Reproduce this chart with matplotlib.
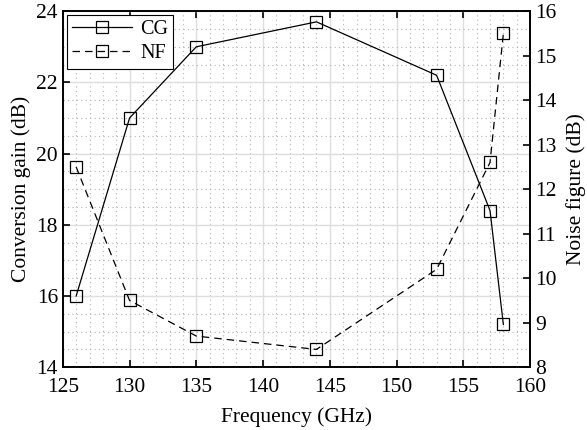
import matplotlib
matplotlib.use("Agg")
import matplotlib.pyplot as plt
from matplotlib.ticker import MultipleLocator

plt.rcParams['font.family'] = ['Liberation Serif', 'DejaVu Serif']
plt.rcParams['font.size'] = 15.5

freq = [126, 130, 135, 144, 153, 157, 158]
cg = [16.0, 21.0, 23.0, 23.7, 22.2, 18.4, 15.2]
nf = [12.5, 9.5, 8.7, 8.4, 10.2, 12.6, 15.5]

fig = plt.figure(figsize=(5.87, 4.30), dpi=100)
ax = fig.add_axes([0.107, 0.146, 0.796, 0.828])
ax2 = ax.twinx()

# grid: major solid, minor dotted
ax.set_axisbelow(True)
ax.xaxis.set_major_locator(MultipleLocator(5))
ax.xaxis.set_minor_locator(MultipleLocator(1))
ax.yaxis.set_major_locator(MultipleLocator(2))
ax.yaxis.set_minor_locator(MultipleLocator(0.5))
ax.grid(which='major', color='#dedede', linewidth=1.0, linestyle='-')
ax.grid(which='minor', color='#b4b4b4', linewidth=0.8, linestyle=(0, (1, 3)))

l1, = ax.plot(freq, cg, '-', color='black', linewidth=0.9,
              marker='s', markersize=8, markerfacecolor='none',
              markeredgecolor='black', markeredgewidth=0.9, label='CG')
l2, = ax2.plot(freq, nf, color='black', linewidth=0.9, linestyle=(0, (6, 4)),
               marker='s', markersize=8, markerfacecolor='none',
               markeredgecolor='black', markeredgewidth=0.9, label='NF')

ax.set_xlim(125, 160)
ax.set_ylim(14, 24)
ax2.set_ylim(8, 16)
ax2.yaxis.set_major_locator(MultipleLocator(1))

ax.tick_params(axis='both', which='major', direction='in', length=5, width=1.2,
               top=True, labelsize=15.5)
ax.tick_params(axis='x', which='major', pad=8)
ax.tick_params(axis='both', which='minor', length=0)
ax.tick_params(axis='y', right=False)
ax2.tick_params(axis='y', direction='in', length=5, width=1.2, labelsize=15.5)

for a in (ax, ax2):
    for s in a.spines.values():
        s.set_linewidth(1.2)

ax.set_xlabel('Frequency (GHz)', fontsize=15.5, labelpad=7)
ax.set_ylabel('Conversion gain (dB)', fontsize=15.5, labelpad=4)
ax2.set_ylabel('Noise figure (dB)', fontsize=15.5, labelpad=7)

leg = ax.legend(handles=[l1, l2], loc='upper left', fancybox=False,
                edgecolor='black', framealpha=1, fontsize=14.5,
                handlelength=3.0, handletextpad=0.4, borderaxespad=0.2,
                borderpad=0.25, labelspacing=0.25)
leg.get_frame().set_linewidth(0.8)

fig.savefig('out.png', dpi=100)
